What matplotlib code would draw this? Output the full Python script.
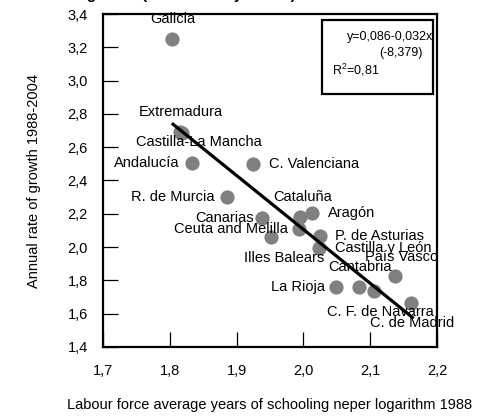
import matplotlib
matplotlib.use("Agg")
import matplotlib.pyplot as plt
from matplotlib.ticker import MultipleLocator, FuncFormatter
from matplotlib.patches import Rectangle

plt.rcParams['font.family'] = ['Liberation Sans', 'DejaVu Sans']
plt.rcParams['mathtext.default'] = 'regular'

# data
regions = ["Galicia", "Extremadura", "Castilla-La Mancha", "Andalucía", "C. Valenciana",
           "R. de Murcia", "Cataluña", "Aragón", "Canarias", "Ceuta and Melilla",
           "Illes Balears", "P. de Asturias", "Castilla y León", "País Vasco",
           "Cantabria", "La Rioja", "C. F. de Navarra", "C. de Madrid"]
schooling = [1.804, 1.816, 1.819, 1.833, 1.925,
             1.885, 1.995, 2.013, 1.938, 1.993,
             1.951, 2.025, 2.023, 2.137,
             2.083, 2.049, 2.106, 2.161]
growth = [3.248, 2.690, 2.684, 2.507, 2.497,
          2.303, 2.179, 2.203, 2.177, 2.107,
          2.059, 2.067, 1.993, 1.826,
          1.762, 1.762, 1.736, 1.662]
fit_x = [1.803, 2.165]
fit_y = [2.744, 1.572]

# label offsets in pixels (dx, dy, ha)
offsets = [(0, 20, 'center'), (0, 20, 'center'), (16, -9, 'center'), (-12, 0, 'right'),
           (16, 0, 'left'), (-12, 0, 'right'), (3, 20, 'center'), (16, 0, 'left'),
           (-8, 0, 'right'), (-11, 0, 'right'), (13, -21, 'center'), (15, 0, 'left'),
           (16, 0, 'left'), (7, 19, 'center'), (1, 20, 'center'), (-11, 0, 'right'),
           (6, -21, 'center'), (1, -20, 'center')]

fig = plt.figure(figsize=(4.9, 4.16), dpi=100)
ax = fig.add_axes([103/490, 69/416, 334/490, 333/416])

ax.scatter(schooling, growth, s=105, color='#808080', zorder=2, linewidths=0)
for name, x, y, (dx, dy, ha) in zip(regions, schooling, growth, offsets):
	ax.annotate(name, (x, y), xytext=(dx, dy), textcoords='offset pixels',
	            ha=ha, va='center', fontsize=10.5, zorder=3)
ax.plot(fit_x, fit_y, color='black', lw=2.3, zorder=4, solid_capstyle='butt')

ax.set_xlim(1.7, 2.2)
ax.set_ylim(1.4, 3.4)
ax.xaxis.set_major_locator(MultipleLocator(0.1))
ax.yaxis.set_major_locator(MultipleLocator(0.2))
comma = FuncFormatter(lambda v, p: f"{v:.1f}".replace('.', ','))
ax.xaxis.set_major_formatter(comma)
ax.yaxis.set_major_formatter(comma)
ax.tick_params(direction='in', length=11, width=0.9, labelsize=10.5)
ax.tick_params(axis='x', pad=12)
ax.tick_params(axis='y', pad=11)
for sp in ax.spines.values():
	sp.set_linewidth(1.6)

ax.set_xlabel("Labour force average years of schooling neper logarithm 1988", fontsize=10.5, labelpad=15)
ax.set_ylabel("Annual rate of growth 1988-2004", fontsize=10.5, labelpad=19)

# equation box
ax.add_patch(Rectangle((0.656, 0.760), 0.332, 0.222, transform=ax.transAxes,
                       fill=False, lw=1.6, edgecolor='black', zorder=5))
ax.text(0.99, 0.931, "y=0,086-0,032x", transform=ax.transAxes, ha='right', va='center', fontsize=9)
ax.text(0.958, 0.883, "(-8,379)", transform=ax.transAxes, ha='right', va='center', fontsize=9)
ax.text(0.686, 0.832, "R$^2$=0,81", transform=ax.transAxes, ha='left', va='center', fontsize=9)

# title, cropped at the top edge in the reference
fig.text(-23/490, 1.0 + 1/416, "Education and growth (1988-2004 by CCAA)", ha='left', va='baseline',
         fontsize=11, fontweight='bold')

fig.savefig("out.png", dpi=100)
